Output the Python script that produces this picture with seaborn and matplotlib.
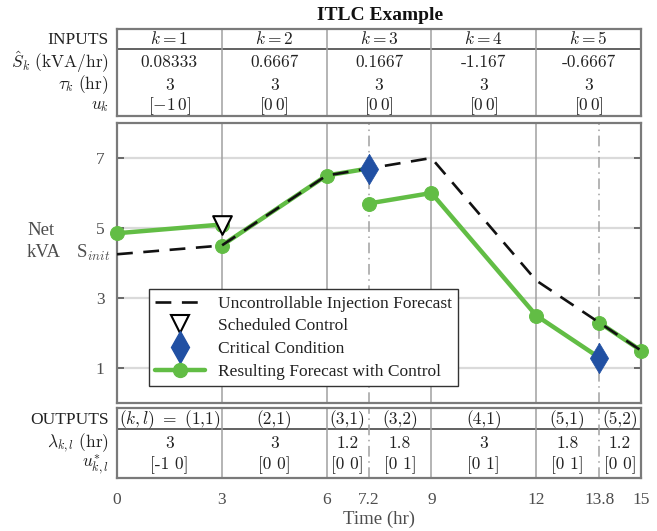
import numpy as np
import pandas as pd
import matplotlib
matplotlib.use("Agg")
import matplotlib.pyplot as plt
import matplotlib.transforms as mtransforms
from matplotlib.lines import Line2D
import seaborn as sns

# ---------------- data ----------------
t_unc = [0, 3, 6, 9, 12, 15]
v_unc = [4.25, 4.5, 6.5, 7.0, 3.5, 1.5]

seg_id = [0, 0, 1, 1, 1, 2, 2, 2, 2, 3, 3]
t_res = [0, 3, 3, 6, 7.2, 7.2, 9, 12, 13.8, 13.8, 15]
v_res = [4.85, 5.1, 4.5, 6.5, 6.7, 5.7, 6.0, 2.5, 1.3, 2.3, 1.5]

t_sched = [3]
v_sched = [5.1]
t_crit = [7.2, 13.8]
v_crit = [6.7, 1.3]

x_ticks = [0, 3, 6, 7.2, 9, 12, 13.8, 15]
x_tick_labels = ["0", "3", "6", "7.2", "9", "12", "13.8", "15"]
y_ticks = [1, 3, 5, 7]

k_bounds = [0, 3, 6, 9, 12, 15]
k_headers = [r"$k=1$", r"$k=2$", r"$k=3$", r"$k=4$", r"$k=5$"]
S_hat = ["0.08333", "0.6667", "0.1667", "-1.167", "-0.6667"]
tau = ["3", "3", "3", "3", "3"]
u_k = [r"$[-1\,0]$", r"$[0\,0]$", r"$[0\,0]$", r"$[0\,0]$", r"$[0\,0]$"]
in_row_labels = ["INPUTS", r"$\hat{S}_k\ \mathrm{(kVA/hr)}$", r"$\tau_k\ \mathrm{(hr)}$", r"$u_k$"]

kl_bounds = [0, 3, 6, 7.2, 9, 12, 13.8, 15]
kl_solid = [3, 6, 9, 12]
kl_dashdot = [7.2, 13.8]
kl_headers = [r"$(k,l)\ =\ (1{,}1)$", "(2,1)", "(3,1)", "(3,2)", "(4,1)", "(5,1)", "(5,2)"]
lam = ["3", "3", "1.2", "1.8", "3", "1.8", "1.2"]
u_star = ["[-1 0]", "[0 0]", "[0 0]", "[0 1]", "[0 1]", "[0 1]", "[0 0]"]
out_row_labels = ["OUTPUTS", r"$\lambda_{k,l}\ \mathrm{(hr)}$", r"$u^{*}_{k,l}$"]

# ---------------- style ----------------
sns.set_theme(style="white")
plt.rcParams["font.family"] = ["Liberation Serif", "DejaVu Serif"]
plt.rcParams["mathtext.fontset"] = "cm"

GREEN = "#62bd45"
BLUE = "#2150a3"
SPINE = "#7a7a7a"
GRIDV = "#a0a0a0"
GRIDH = "#dadada"
TXT = "#222222"
TICK = "#4d4d4d"
FS = 12.5

W, H = 657, 531
fig = plt.figure(figsize=(W / 100, H / 100), dpi=100)


def px_axes(x0, y0, x1, y1):
    return fig.add_axes([x0 / W, 1 - y1 / H, (x1 - x0) / W, (y1 - y0) / H])


XL, XR = 117, 641
ax_in = px_axes(XL, 29, XR, 116)
ax = px_axes(XL, 123, XR, 403)
ax_out = px_axes(XL, 408, XR, 478)

for a in (ax_in, ax, ax_out):
    a.set_xlim(0, 15)
    for s in a.spines.values():
        s.set_color(SPINE)
        s.set_linewidth(1.6)
    a.set_facecolor("white")

# ---------------- inputs table ----------------
ax_in.set_ylim(116, 29)
ax_in.set_xticks([])
ax_in.set_yticks([])
ax_in.axhline(49, color="#555555", lw=1.3)
for b in k_bounds[1:-1]:
    ax_in.axvline(b, color=GRIDV, lw=1.1)
rows_in = [40, 62, 85, 106]
centers_k = [(k_bounds[i] + k_bounds[i + 1]) / 2 for i in range(len(k_headers))]
for i, c in enumerate(centers_k):
    ax_in.text(c, rows_in[0], k_headers[i], ha="center", va="center", fontsize=FS, color=TXT)
    ax_in.text(c, rows_in[1], S_hat[i], ha="center", va="center", fontsize=FS, color=TXT, family="cmr10")
    ax_in.text(c, rows_in[2], tau[i], ha="center", va="center", fontsize=FS, color=TXT, family="cmr10")
    ax_in.text(c, rows_in[3], u_k[i], ha="center", va="center", fontsize=FS, color=TXT)
tr_in = mtransforms.blended_transform_factory(ax_in.transAxes, ax_in.transData)
for lbl, yy in zip(in_row_labels, rows_in):
    ax_in.text(-0.016, yy, lbl, ha="right", va="center", fontsize=FS, color=TXT, transform=tr_in)
fig.text(380 / W, 1 - 15 / H, "ITLC Example", ha="center", va="center",
         fontsize=14, fontweight="bold", color="#111111")

# ---------------- main chart ----------------
ax.set_ylim(0, 8)
for yv in y_ticks:
    ax.axhline(yv, color=GRIDH, lw=1.6, zorder=0)
for b in [3, 6, 9, 12]:
    ax.axvline(b, color=GRIDV, lw=1.1, zorder=1)
for b in kl_dashdot:
    ax.axvline(b, color=GRIDV, lw=1.1, ls=(0, (7, 3, 1, 3)), zorder=1)

df_res = pd.DataFrame({"seg": seg_id, "t": t_res, "v": v_res})
sns.lineplot(data=df_res, x="t", y="v", units="seg", estimator=None, sort=False,
             color=GREEN, lw=3.2, marker="o", ms=10, mec=GREEN, mfc=GREEN,
             clip_on=False, zorder=3, legend=False, ax=ax)

df_unc = pd.DataFrame({"t": t_unc, "v": v_unc})
sns.lineplot(data=df_unc, x="t", y="v", estimator=None, sort=False, color="#111111",
             lw=1.9, zorder=4, legend=False, ax=ax)
ax.lines[-1].set_dashes((6, 4))

sns.scatterplot(x=t_sched, y=v_sched, marker="v", s=180, facecolor="white",
                edgecolor="black", linewidth=1.5, zorder=5, legend=False, ax=ax)
sns.scatterplot(x=t_crit, y=v_crit, marker="d", s=240, color=BLUE,
                edgecolor=BLUE, linewidth=0.5, zorder=5, legend=False, ax=ax, clip_on=False)

ax.set_xticks(x_ticks)
ax.set_xticklabels([])
ax.tick_params(axis="x", length=0)
ax.set_yticks(y_ticks)
ax.set_yticklabels([str(v) for v in y_ticks])
ax.tick_params(axis="y", direction="in", length=5, width=1.2, color="#555555",
               left=True, right=True, labelsize=12.5, labelcolor=TICK, pad=9)
ax.set_xlabel("")
ax.set_ylabel("")

fig.text(27 / W, 1 - 230 / H, "Net", ha="left", va="center", fontsize=13.5, color=TICK)
fig.text(27 / W, 1 - 252 / H, "kVA", ha="left", va="center", fontsize=13.5, color=TICK)
tr_m = mtransforms.blended_transform_factory(ax.transAxes, ax.transData)
ax.text(-0.012, v_unc[0] + 0.05, r"S$_{\mathit{init}}$", ha="right", va="center",
        fontsize=13.5, color=TICK, transform=tr_m)

handles = [
    Line2D([], [], color="#111111", lw=1.9, dashes=(6, 4)),
    Line2D([], [], ls="none", marker="v", ms=13, mfc="white", mec="black", mew=1.5),
    Line2D([], [], ls="none", marker="d", ms=16, mfc=BLUE, mec=BLUE),
    Line2D([], [], color=GREEN, lw=3.2, marker="o", ms=10, mfc=GREEN, mec=GREEN),
]
labels = ["Uncontrollable Injection Forecast", "Scheduled Control",
          "Critical Condition", "Resulting Forecast with Control"]
leg = ax.legend(handles, labels, loc="lower left", bbox_to_anchor=(0.061, 0.061),
                borderaxespad=0, frameon=True, fancybox=False, framealpha=1,
                edgecolor="#333333", fontsize=FS, handlelength=2.9,
                handletextpad=0.7, labelspacing=0.38, borderpad=0.35)
leg.get_frame().set_linewidth(1.0)
leg.set_zorder(6)
for t in leg.get_texts():
    t.set_color(TXT)

# ---------------- outputs table ----------------
ax_out.set_ylim(478, 408)
ax_out.set_yticks([])
ax_out.axhline(429, color="#555555", lw=1.3)
for b in kl_solid:
    ax_out.axvline(b, color=GRIDV, lw=1.1)
for b in kl_dashdot:
    ax_out.axvline(b, color=GRIDV, lw=1.1, ls=(0, (7, 3, 1, 3)))
rows_out = [420, 443, 465]
centers_kl = [(kl_bounds[i] + kl_bounds[i + 1]) / 2 for i in range(len(kl_headers))]
for i, c in enumerate(centers_kl):
    fam = None if kl_headers[i].startswith("$") else "cmr10"
    ax_out.text(c, rows_out[0], kl_headers[i], ha="center", va="center", fontsize=FS,
                color=TXT, family=fam)
    ax_out.text(c, rows_out[1], lam[i], ha="center", va="center", fontsize=FS, color=TXT, family="cmr10")
    ax_out.text(c, rows_out[2], u_star[i], ha="center", va="center", fontsize=FS, color=TXT, family="cmr10")
tr_out = mtransforms.blended_transform_factory(ax_out.transAxes, ax_out.transData)
for lbl, yy in zip(out_row_labels, rows_out):
    ax_out.text(-0.016, yy, lbl, ha="right", va="center", fontsize=FS, color=TXT, transform=tr_out)

ax_out.set_xticks(x_ticks)
ax_out.set_xticklabels(x_tick_labels)
ax_out.tick_params(axis="x", length=0, pad=10, labelsize=12.5, labelcolor=TICK)
ax_out.set_xlabel("")
fig.text(379 / W, 1 - 519 / H, "Time (hr)", ha="center", va="center",
         fontsize=13.5, color=TICK)

fig.savefig("out.png", dpi=100)
